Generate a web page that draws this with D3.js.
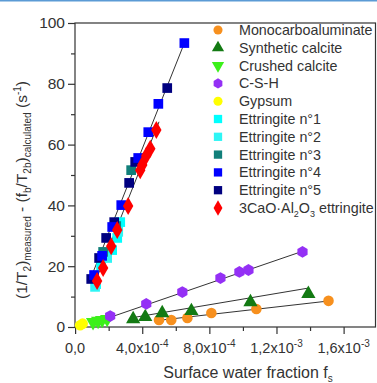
<!DOCTYPE html>
<html><head><meta charset="utf-8">
<script src="https://cdn.jsdelivr.net/npm/d3@7"></script>
<style>
html,body{margin:0;padding:0;background:#fff;}
svg{display:block;font-family:"Liberation Sans",Arial,sans-serif;}
</style></head>
<body><svg id="c" width="377" height="383"></svg>
<script>
// ---- data (x in units of surface water fraction, y in s^-1) ----
const seriesNames = ["Monocarboaluminate","Synthetic calcite","Crushed calcite","C-S-H","Gypsum",
  "Ettringite n°1","Ettringite n°2","Ettringite n°3","Ettringite n°4","Ettringite n°5","3CaO·Al2O3 ettringite"];
const seriesColors = ["#f7901e","#137a13","#3cf01a","#9430f5","#ffff00","#00ffff","#2ef5f5","#117f7a","#0000ff","#000080","#ff0000"];
const seriesShapes = ["circle","triangle","down","hexagon","circle","square","square","square","square","square","diamond"];

const monoX = [5.0e-4,5.73e-4,6.69e-4,8.12e-4,1.08e-3,1.51e-3];
const monoY = [2.3,2.3,3.0,4.6,5.9,8.6];
const synthX = [3.46e-4,4.18e-4,5.19e-4,6.93e-4,1.045e-3,1.39e-3];
const synthY = [2.6,3.3,4.6,5.3,8.2,10.9];
const crushX = [1.07e-4,1.37e-4,1.61e-4,1.91e-4];
const crushY = [1.6,2.0,2.3,2.6];
const cshX = [2.09e-4,4.24e-4,6.39e-4,8.66e-4,9.79e-4,1.033e-3,1.355e-3];
const cshY = [3.6,7.6,11.5,16.1,18.1,18.75,24.7];
const gypX = [0.3e-4,0.45e-4];
const gypY = [0.6,1.1];
const ett1X = [1.25e-4,1.55e-4,2.21e-4,2.51e-4,2.69e-4];
const ett1Y = [14.1,20.1,25.3,29.3,34.5];
const ett2X = [1.19e-4,1.91e-4,2.57e-4];
const ett2Y = [13.2,22.7,31.3];
const ett3X = [1.67e-4,2.45e-4,3.34e-4];
const ett3Y = [24.7,33.2,51.6];
const ett4X = [1.13e-4,1.61e-4,2.21e-4,2.75e-4,3.76e-4,4.36e-4,4.96e-4,6.51e-4];
const ett4Y = [17.1,23.4,32.9,40.1,55.6,64.1,73.4,93.4];
const ett5X = [0.96e-4,1.43e-4,1.85e-4,2.33e-4,3.22e-4,3.58e-4,5.49e-4];
const ett5Y = [15.8,22.7,29.3,34.5,47.4,54.3,78.6];
const c3aX = [1.31e-4,1.67e-4,2.15e-4,2.51e-4,3.16e-4,3.88e-4,4.0e-4,4.24e-4,4.48e-4,4.84e-4];
const c3aY = [15.1,19.4,26.6,31.9,39.8,51.6,53.3,56.3,58.6,64.8];

const seriesX = [monoX,synthX,crushX,cshX,gypX,ett1X,ett2X,ett3X,ett4X,ett5X,c3aX];
const seriesY = [monoY,synthY,crushY,cshY,gypY,ett1Y,ett2Y,ett3Y,ett4Y,ett5Y,c3aY];

// fitted lines: [x0, y0, x1, y1]
const fitX0 = [4.84e-4, 3.34e-4, 1.25e-4, 0.84e-4, 1.1e-4];
const fitY0 = [2.1, 3.0, 1.6, 14.8, 13.5];
const fitX1 = [1.51e-3, 1.39e-3, 1.36e-3, 6.51e-4, 5.0e-4];
const fitY1 = [8.55, 12.8, 25.0, 93.4, 67.5];

const yTicks = [0,20,40,60,80,100];
const yMinor = [10,30,50,70,90];
const xTicks = [0,4e-4,8e-4,1.2e-3,1.6e-3];
const xMinor = [2e-4,6e-4,1e-3,1.4e-3];
const xTickMant = ["0,0","4,0x10","8,0x10","1,2x10","1,6x10"];
const xTickExp = ["","-4","-4","-3","-3"];

// ---- layout ----
const svg = d3.select("#c");
const L = 75, R = 375.5, T = 23, B = 327;
const x = d3.scaleLinear().domain([-0.006e-4, 17.9e-4]).range([L, R]);
const y = d3.scaleLinear().domain([0, 100]).range([B, T]);
const ink = "#333";

svg.append("rect").attr("x",0).attr("y",0).attr("width",377).attr("height",1.5).attr("fill","#5b9bd5");

// frame
svg.append("rect").attr("x",L).attr("y",T).attr("width",R-L).attr("height",B-T)
  .attr("fill","none").attr("stroke",ink).attr("stroke-width",1.2);

// axes
const yAx = svg.append("g").attr("transform",`translate(${L},0)`)
  .call(d3.axisLeft(y).tickValues(yTicks).tickSize(7).tickPadding(3).tickFormat(d3.format("d")));
const yAxm = svg.append("g").attr("transform",`translate(${L},0)`)
  .call(d3.axisLeft(y).tickValues(yMinor).tickSize(4).tickFormat(""));
const xAx = svg.append("g").attr("transform",`translate(0,${B})`)
  .call(d3.axisBottom(x).tickValues(xTicks).tickSize(7).tickFormat(""));
const xAxm = svg.append("g").attr("transform",`translate(0,${B})`)
  .call(d3.axisBottom(x).tickValues(xMinor).tickSize(4).tickFormat(""));
[yAx,yAxm,xAx,xAxm].forEach(g=>{
  g.select(".domain").remove();
  g.selectAll("line").attr("stroke",ink).attr("stroke-width",1.2);
});
yAx.selectAll("text").attr("font-size",15.5).attr("fill",ink).attr("font-family","Liberation Sans, Arial, sans-serif");

// x tick labels with superscripts
xTicks.forEach((v,i)=>{
  const t = svg.append("text").attr("x",x(v)).attr("y",353).attr("text-anchor","middle")
    .attr("font-size",14.5).attr("fill",ink);
  t.append("tspan").text(xTickMant[i]);
  if (xTickExp[i]) t.append("tspan").attr("dy",-6).attr("font-size",10).text(xTickExp[i]);
});

// x label
const xl = svg.append("text").attr("x",248).attr("y",378).attr("text-anchor","middle")
  .attr("font-size",16).attr("fill",ink);
xl.append("tspan").text("Surface water fraction f");
xl.append("tspan").attr("dy",4).attr("font-size",10).text("s");

// y label
const yl = svg.append("text").attr("transform","translate(27,190) rotate(-90)").attr("text-anchor","middle")
  .attr("font-size",15.5).attr("fill",ink);
yl.append("tspan").text("(1/T");
yl.append("tspan").attr("dy",4).attr("font-size",10).text("2");
yl.append("tspan").attr("dy",-4).text(")");
yl.append("tspan").attr("dy",4).attr("font-size",10).text("measured");
yl.append("tspan").attr("dy",-4).text(" - (f");
yl.append("tspan").attr("dy",4).attr("font-size",10).text("b");
yl.append("tspan").attr("dy",-4).text("/T");
yl.append("tspan").attr("dy",4).attr("font-size",10).text("2b");
yl.append("tspan").attr("dy",-4).text(")");
yl.append("tspan").attr("dy",4).attr("font-size",10).text("calculated");
yl.append("tspan").attr("dy",-4).text(" (s");
yl.append("tspan").attr("dy",-6).attr("font-size",10).text("-1");
yl.append("tspan").attr("dy",6).text(")");

// fit lines
const plot = svg.append("g");
fitX0.forEach((v,i)=>{
  plot.append("line").attr("x1",x(v)).attr("y1",y(fitY0[i])).attr("x2",x(fitX1[i])).attr("y2",y(fitY1[i]))
    .attr("stroke","#333").attr("stroke-width",1);
});

function shapePath(shape, s){
  if (shape==="circle") return d3.symbol(d3.symbolCircle, s*s*0.8)();
  if (shape==="triangle") return d3.symbol(d3.symbolTriangle, s*s*0.8)();
  if (shape==="down") return d3.symbol(d3.symbolTriangle, s*s*0.8)();
  if (shape==="square") return d3.symbol(d3.symbolSquare, s*s*0.85)();
  if (shape==="diamond") return d3.symbol(d3.symbolDiamond, s*s*0.85)();
  if (shape==="hexagon"){
    const r = s*0.56; const pts=[];
    for(let k=0;k<6;k++){const a=Math.PI/6+k*Math.PI/3; pts.push([r*Math.cos(a),r*Math.sin(a)]);}
    return "M"+pts.map(p=>p.join(",")).join("L")+"Z";
  }
}

// points: draw cluster series in an order matching stacking
const order = [4,2,0,1,3,5,6,7,9,8,10];
order.forEach(i=>{
  const g = plot.append("g");
  seriesX[i].forEach((v,j)=>{
    g.append("path").attr("d",shapePath(seriesShapes[i],10.5))
      .attr("transform",`translate(${x(v)},${y(seriesY[i][j])})`+(seriesShapes[i]==="down"?" rotate(180)":""))
      .attr("fill",seriesColors[i]);
  });
});

// legend
const lg = svg.append("g");
seriesNames.forEach((n,i)=>{
  const cy = 30 + i*17.8;
  lg.append("path").attr("d",shapePath(seriesShapes[i],9))
    .attr("transform",`translate(218,${cy})`+(seriesShapes[i]==="down"?" rotate(180)":""))
    .attr("fill",seriesColors[i]);
  const t = lg.append("text").attr("x",239).attr("y",cy+5).attr("font-size",14.3).attr("fill",ink);
  if (i===10){
    t.append("tspan").text("3CaO·Al");
    t.append("tspan").attr("dy",4).attr("font-size",9).text("2");
    t.append("tspan").attr("dy",-4).text("O");
    t.append("tspan").attr("dy",4).attr("font-size",9).text("3");
    t.append("tspan").attr("dy",-4).text(" ettringite");
  } else t.text(n);
});
</script></body></html>
